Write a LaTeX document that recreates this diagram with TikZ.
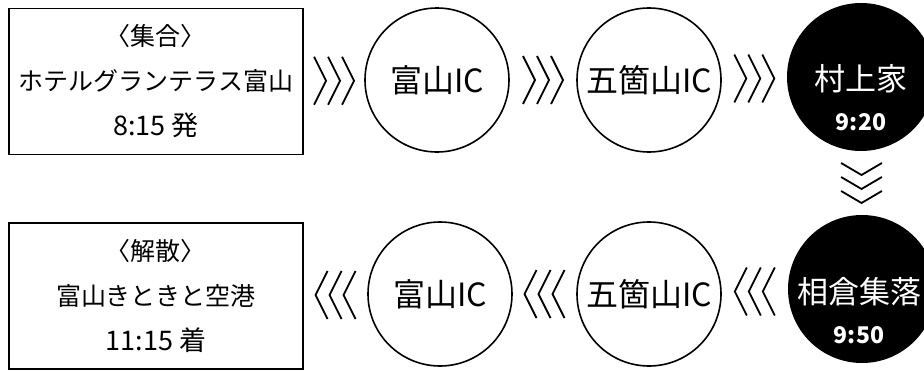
\documentclass[tikz,border=0pt]{standalone}
\usepackage{fontspec}
\setmainfont{Noto Sans CJK JP}
\usetikzlibrary{calc}

\newcommand{\hour}[1]{{\fontsize{27}{30}\selectfont #1}}
\newcommand{\stoptime}[1]{{\fontsize{23}{26}\selectfont\bfseries #1}}

\tikzset{
  place/.style={draw, line width=1.8pt, minimum width=294pt, minimum height=146pt,
    inner sep=0pt, align=center, font=\fontsize{25}{45}\selectfont},
  ic/.style={draw, circle, line width=1.6pt, minimum size=144pt, inner sep=0pt,
    font=\fontsize{32}{36}\selectfont},
  stop/.style={circle, fill=black, minimum size=148pt, inner sep=0pt},
  stoptext/.style={text=white, align=center, inner sep=0pt, font=\fontsize{31}{40}\selectfont},
  chevs/.pic={
    \foreach \dx in {-14,0,14}
      \draw[line width=1.8pt] (\dx-6,24) -- (\dx+6,0) -- (\dx-6,-24);
  }
}

\begin{document}
\begin{tikzpicture}[x=1pt, y=-1pt]
    \useasboundingbox (0,0) rectangle (924,372);
    % outward
    \node[place] (start) at (156,81.5) {〈集合〉\\ホテルグランテラス富山\\\hour{8:15 発}};
    \node[ic] (toyamaA) at (437,80) {富山IC};
    \node[ic] (gokaA) at (649,80) {五箇山IC};
    \node[stop] (murakami) at (861,77) {};
    \node[stoptext] at ([yshift=-21pt]murakami.center) {村上家\\\stoptime{9:20}};
    % return
    \node[place] (finish) at (156,296) {〈解散〉\\富山きときと空港\\\hour{11:15 着}};
    \node[ic] (toyamaB) at (440,294) {富山IC};
    \node[ic] (gokaB) at (649,294) {五箇山IC};
    \node[stop] (ainokura) at (862,289) {};
    \node[stoptext] at ([xshift=-3pt, yshift=-22pt]ainokura.center) {相倉集落\\\stoptime{9:50}};
    % chevrons
    \pic at ($(start.east)!0.5!(toyamaA.west)$) {chevs};
    \pic at ($(toyamaA.east)!0.5!(gokaA.west)$) {chevs};
    \pic at ($(gokaA.east)!0.5!(murakami.west)$) {chevs};
    \pic[rotate=-90, yscale=0.85] at ($(murakami.south)!0.5!(ainokura.north)$) {chevs};
    \pic[rotate=180] at ($(ainokura.west)!0.5!(gokaB.east)$) {chevs};
    \pic[rotate=180] at ($(gokaB.west)!0.5!(toyamaB.east)$) {chevs};
    \pic[rotate=180] at ($(toyamaB.west)!0.5!(finish.east)$) {chevs};
\end{tikzpicture}
\end{document}
